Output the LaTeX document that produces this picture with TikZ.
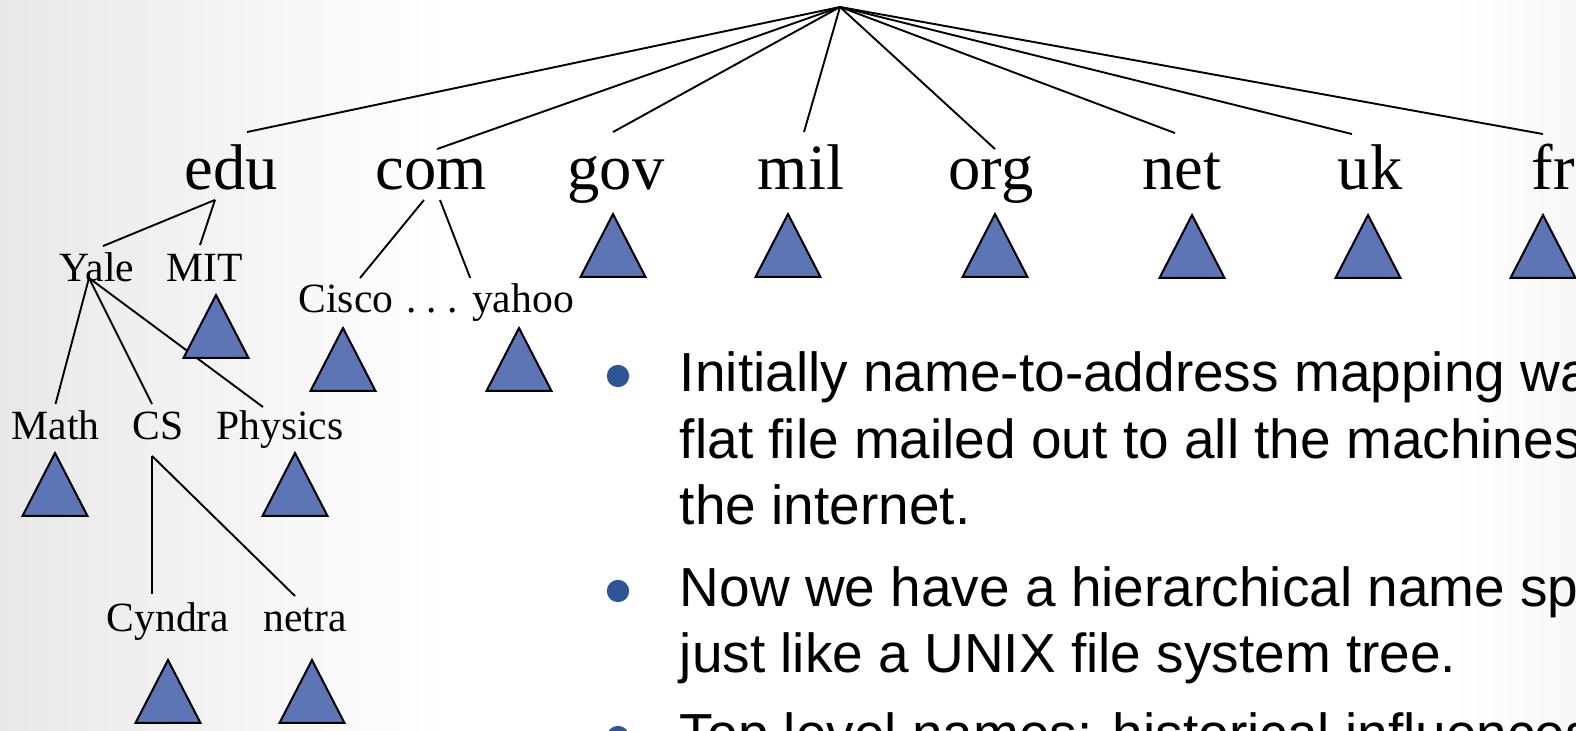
\documentclass[tikz,border=0pt]{standalone}
\usepackage{fontspec}
\setmainfont{Liberation Serif}
\setsansfont{Liberation Sans}
\usetikzlibrary{calc}
\definecolor{triColor}{HTML}{5E75B5}
\definecolor{bulColor}{HTML}{2F5597}
\tikzset{
	toplab/.style={font=\fontsize{32.3}{32}\selectfont, anchor=base, inner xsep=0pt,
		inner ysep=6.8pt, text height=21.7pt, text depth=0pt},
	sublab/.style={font=\fontsize{20.8}{21}\selectfont, anchor=base, inner xsep=0pt,
		inner ysep=3.5pt, text height=14pt, text depth=0pt},
	bultext/.style={font=\sffamily\fontsize{27.5}{33}\selectfont, anchor=base west, inner sep=0pt},
	bulletdot/.style={circle, fill=bulColor, inner sep=0pt, minimum size=11.2pt},
	subtree/.pic={\filldraw[fill=triColor, draw=black, line width=1pt] (0,0) -- (-32.5,63) -- (32.5,63) -- cycle;}
}

\begin{document}
\begin{tikzpicture}[x=0.5pt, y=-0.5pt, line width=0.95pt]
	\useasboundingbox (0,0) rectangle (1576,731);
	\clip (0,0) rectangle (1576,731);
	\fill[white] (0,0) rectangle (1576,731);
	\shade[left color=black!9, right color=white] (0,0) rectangle (450,731);
	\shade[left color=white, right color=black!3] (1450,0) rectangle (1576,731);

	% top level domains
	\coordinate (root) at (840,7);
	\node[toplab] (edu) at (231,190) {edu};
	\node[toplab] (com) at (431,190) {com};
	\node[toplab] (gov) at (616,190) {gov};
	\node[toplab] (mil) at (801,190) {mil};
	\node[toplab] (org) at (991,190) {org};
	\node[toplab] (net) at (1182,190) {net};
	\node[toplab] (uk) at (1370,190) {uk};
	\node[toplab] (fr) at (1553,190) {fr};

	\path (root) edge ([shift={(16,0)}]edu.north)
		edge ([shift={(6,17)}]com.north)
		edge ([shift={(-3,0)}]gov.north)
		edge ([shift={(3,0)}]mil.north)
		edge ([shift={(4,17)}]org.north)
		edge ([shift={(-7,1)}]net.north)
		edge ([shift={(-18,2)}]uk.north)
		edge ([shift={(-10,2)}]fr.north);

	% edu
	\node[sublab] (yale) at (97,282) {Yale};
	\node[sublab] (mit) at (205,282) {MIT};
	\path ([shift={(-16,-4.6)}]edu.south) edge ([shift={(6,0)}]yale.north)
		edge ([shift={(-5,-1)}]mit.north);

	\node[sublab] (math) at (55.5,440) {Math};
	\node[sublab] (cs) at (158,440) {CS};
	\node[sublab] (physics) at (280,440) {Physics};
	\path ([shift={(-8,-4)}]yale.base) edge (math.north)
		edge ([shift={(-6,0)}]cs.north)
		edge ([shift={(-17,3)}]physics.north);

	\node[sublab] (cyndra) at (168,632) {Cyndra};
	\node[sublab] (netra) at (305,632) {netra};
	\path ([shift={(-6,8)}]cs.south) edge ([shift={(-16,-2)}]cyndra.north)
		edge ([shift={(-10,0)}]netra.north);

	% com
	\node[sublab] (cisco) at (346,313) {Cisco};
	\node[sublab] (etc) at (432,313) {.\ .\ .};
	\node[sublab] (yahoo) at (523,313) {yahoo};
	\path ([shift={(-7,-4.6)}]com.south) edge ([shift={(14,1)}]cisco.north);
	\path ([shift={(9,-4.6)}]com.south) edge ([shift={(-1,1)}]yahoo.north west);

	% subtrees below the leaves
	\pic at (216,295) {subtree};
	\pic at (343,328) {subtree};
	\pic at (519,328) {subtree};
	\pic at (55,453) {subtree};
	\pic at (295,453) {subtree};
	\pic at (168,660) {subtree};
	\pic at (312,660) {subtree};
	\pic at (613,214) {subtree};
	\pic at (788,214) {subtree};
	\pic at (995,214) {subtree};
	\pic at (1192,215) {subtree};
	\pic at (1368,215) {subtree};
	\pic at (1543,215) {subtree};

	% bullet points
	\node[bulletdot] (d1) at (618,376) {};
	\node[bultext] (b1a) at (679,392) {Initially name-to-address mapping was a};
	\node[bultext] (b1b) at (679,458.5) {flat file mailed out to all the machines on};
	\node[bultext] (b1c) at (679,525) {the internet.};
	\node[bulletdot] (d2) at (618,591) {};
	\node[bultext] (b2a) at (679,607) {Now we have a hierarchical name space};
	\node[bultext] (b2b) at (679,673) {just like a UNIX file system tree.};
	\node[bulletdot] (d3) at (618,737) {};
	\node[bultext] (b3a) at (679,753) {Top level names: historical influences};
\end{tikzpicture}
\end{document}
